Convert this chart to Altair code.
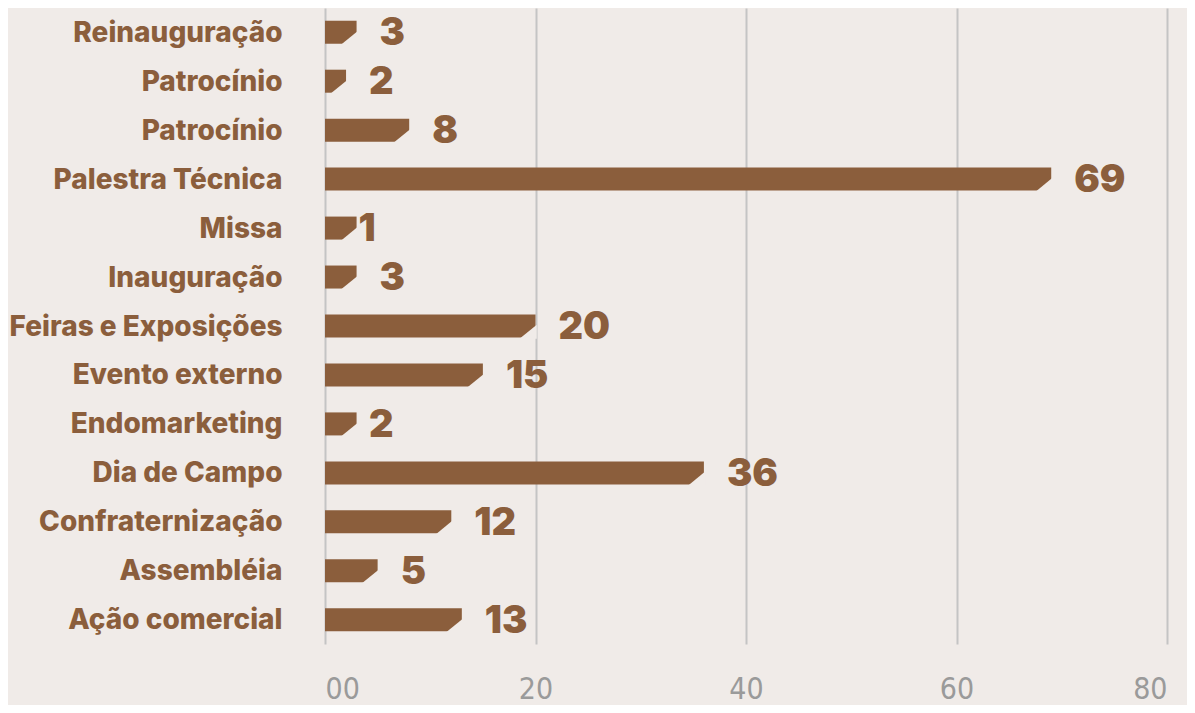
import altair as alt
import pandas as pd

categories = ["Reinauguração", "Patrocínio", "Patrocínio ", "Palestra Técnica", "Missa",
              "Inauguração", "Feiras e Exposições", "Evento externo", "Endomarketing",
              "Dia de Campo", "Confraternização", "Assembléia", "Ação comercial"]
bar_values = [3, 2, 8, 69, 3, 3, 20, 15, 3, 36, 12, 5, 13]
label_values = [3, 2, 8, 69, 1, 3, 20, 15, 2, 36, 12, 5, 13]
x_ticks = [0, 20, 40, 60, 80]

BG = "#F0EBE8"
BROWN = "#8B5E3C"

df = pd.DataFrame({"cat": categories, "bar": bar_values, "label": label_values})

y = alt.Y("cat:N", sort=categories, title=None,
          scale=alt.Scale(paddingInner=0.53, paddingOuter=0.26),
          axis=alt.Axis(domain=False, ticks=False, labelFont="Inter", labelFontWeight=800,
                        labelFontSize=28, labelColor=BROWN, labelPadding=43, labelLimit=0,
                        labelOffset=1.5, labelExpr="trim(datum.label)"))
xs = alt.Scale(domain=[0, 80], nice=False)

bars = alt.Chart(df).mark_bar(color=BROWN).encode(
    x=alt.X("bar:Q", scale=xs, title=None,
            axis=alt.Axis(values=x_ticks, domain=False, ticks=False, grid=True,
                          gridColor="#C4C4C4", gridWidth=2,
                          labelFont="DejaVu Sans Condensed", labelFontSize=30,
                          labelFontWeight="normal",
                          labelColor="#9A9A9A", labelPadding=30,
                          labelExpr="datum.value == 0 ? '00' : datum.label")),
    y=y,
)

cut = alt.Chart(df).mark_point(
    shape="M 0.08 -0.08 L 0.08 0.8 L -1.0 0.8 Z",
    filled=True, fill=BG, opacity=1, strokeWidth=0, size=1024,
).encode(x=alt.X("bar:Q", scale=xs), y=y)

labels = alt.Chart(df).mark_text(
    align="left", baseline="middle", dx=23, dy=2, font="Inter", fontWeight=900,
    fontSize=38, color=BROWN,
).encode(x=alt.X("label:Q", scale=xs), y=y, text="label:Q")

chart = alt.layer(bars, cut, labels).properties(
    width=842, height=636,
    background=BG,
    padding={"left": 317, "top": 0, "right": 20, "bottom": 61},
    autosize=alt.AutoSizeParams(type="none"),
).configure_view(stroke=None)

chart.save("out.html", embed_options={"renderer": "svg", "actions": False})
